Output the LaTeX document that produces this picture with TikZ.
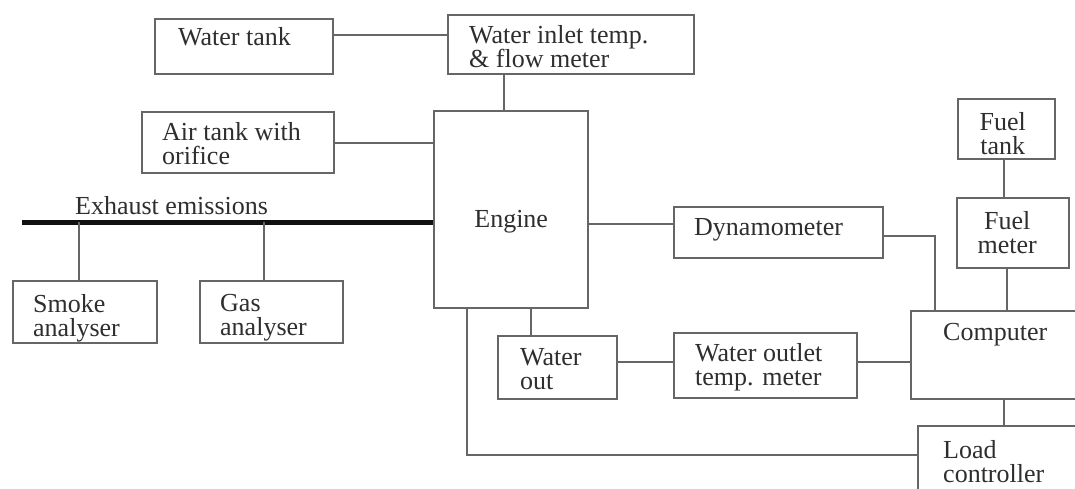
\documentclass[tikz,border=0pt]{standalone}
\usepackage{fontspec}
\setmainfont{Liberation Serif}
\usetikzlibrary{positioning}
\definecolor{Edge}{HTML}{666666}
\definecolor{Ink}{HTML}{2E2E2E}
\definecolor{Pipe}{HTML}{111111}
\newcommand{\boxfont}{\fontsize{26}{24}\selectfont}

\begin{document}
\begin{tikzpicture}[x=1pt,y=-1pt,
  box/.style={draw=Edge,line width=2.4pt,rectangle,inner sep=0pt,anchor=north west},
  tag/.style={font=\boxfont,text=Ink,inner sep=0pt,anchor=north west,align=left},
  ctag/.style={tag,anchor=north,align=center},
  link/.style={draw=Edge,line width=2.4pt},
  exhaust/.style={draw=Pipe,line width=5pt}]
  \useasboundingbox (0,0) rectangle (1075,489);
  \clip (0,0) rectangle (1075,489);
  % water and air side
  \node[box,minimum width=178,minimum height=55,label={[tag,xshift=24,yshift=-9]north west:Water tank}] (wtank) at (154,18) {};
  \node[box,minimum width=246,minimum height=59,label={[tag,xshift=22,yshift=-11]north west:Water inlet temp.\\\& flow meter}] (winlet) at (447,14) {};
  \node[box,minimum width=192,minimum height=61,label={[tag,xshift=21,yshift=-11]north west:Air tank with\\orifice}] (airtank) at (141,111) {};
  \node[box,minimum width=154,minimum height=197,label={[ctag,yshift=-100]north:Engine}] (engine) at (433,110) {};
  % exhaust side
  \node[tag] (exlabel) at (75,196) {Exhaust emissions};
  \node[box,minimum width=144,minimum height=62,label={[tag,xshift=21,yshift=-14]north west:Smoke\\analyser}] (smoke) at (12,280) {};
  \node[box,minimum width=143,minimum height=62,label={[tag,xshift=21,yshift=-14]north west:Gas\\analyser}] (gas) at (199,280) {};
  % measuring side
  \node[box,minimum width=209,minimum height=51,label={[tag,xshift=21,yshift=-12]north west:Dynamometer}] (dyno) at (673,206) {};
  \node[box,minimum width=97,minimum height=60,label={[ctag,xshift=-4,yshift=-14]north:Fuel\\tank}] (ftank) at (957,98) {};
  \node[box,minimum width=112,minimum height=70,label={[ctag,xshift=-6,yshift=-14]north:Fuel\\meter}] (fmeter) at (956,197) {};
  \node[box,minimum width=180,minimum height=88,label={[tag,xshift=33,yshift=-13]north west:Computer}] (computer) at (910,310) {};
  \node[box,minimum width=119,minimum height=63,label={[tag,xshift=23,yshift=-13]north west:Water\\out}] (wout) at (497,335) {};
  \node[box,minimum width=183,minimum height=65,label={[tag,xshift=22,yshift=-11]north west:Water outlet\\temp. meter}] (wmeter) at (673,332) {};
  \node[box,minimum width=173,minimum height=90,label={[tag,xshift=26,yshift=-15]north west:Load\\controller}] (load) at (917,425) {};
  % connections
  \draw[link] (wtank.east |- 0,35) -- (winlet.west |- 0,35);
  \draw[link] (winlet.south -| 504,0) -- (engine.north -| 504,0);
  \draw[link] (airtank.east |- 0,143) -- (engine.west |- 0,143);
  \coordinate (exL) at (22,222);
  \draw[exhaust] (exL) -- (exL -| engine.west);
  \draw[link] (smoke.north -| 79,0) -- (exL -| 79,0);
  \draw[link] (gas.north -| 264,0) -- (exL -| 264,0);
  \draw[link] (engine.east |- 0,224) -- (dyno.west |- 0,224);
  \draw[link] (dyno.east |- 0,236) -| (computer.north -| 935,0);
  \draw[link] (ftank.south -| 1004,0) -- (fmeter.north -| 1004,0);
  \draw[link] (fmeter.south -| 1007,0) -- (computer.north -| 1007,0);
  \draw[link] (engine.south -| 531,0) -- (wout.north -| 531,0);
  \draw[link] (wout.east |- 0,362) -- (wmeter.west |- 0,362);
  \draw[link] (wmeter.east |- 0,362) -- (computer.west |- 0,362);
  \draw[link] (computer.south -| 1004,0) -- (load.north -| 1004,0);
  \draw[link] (engine.south -| 467,0) |- (load.west |- 0,455);
\end{tikzpicture}
\end{document}
